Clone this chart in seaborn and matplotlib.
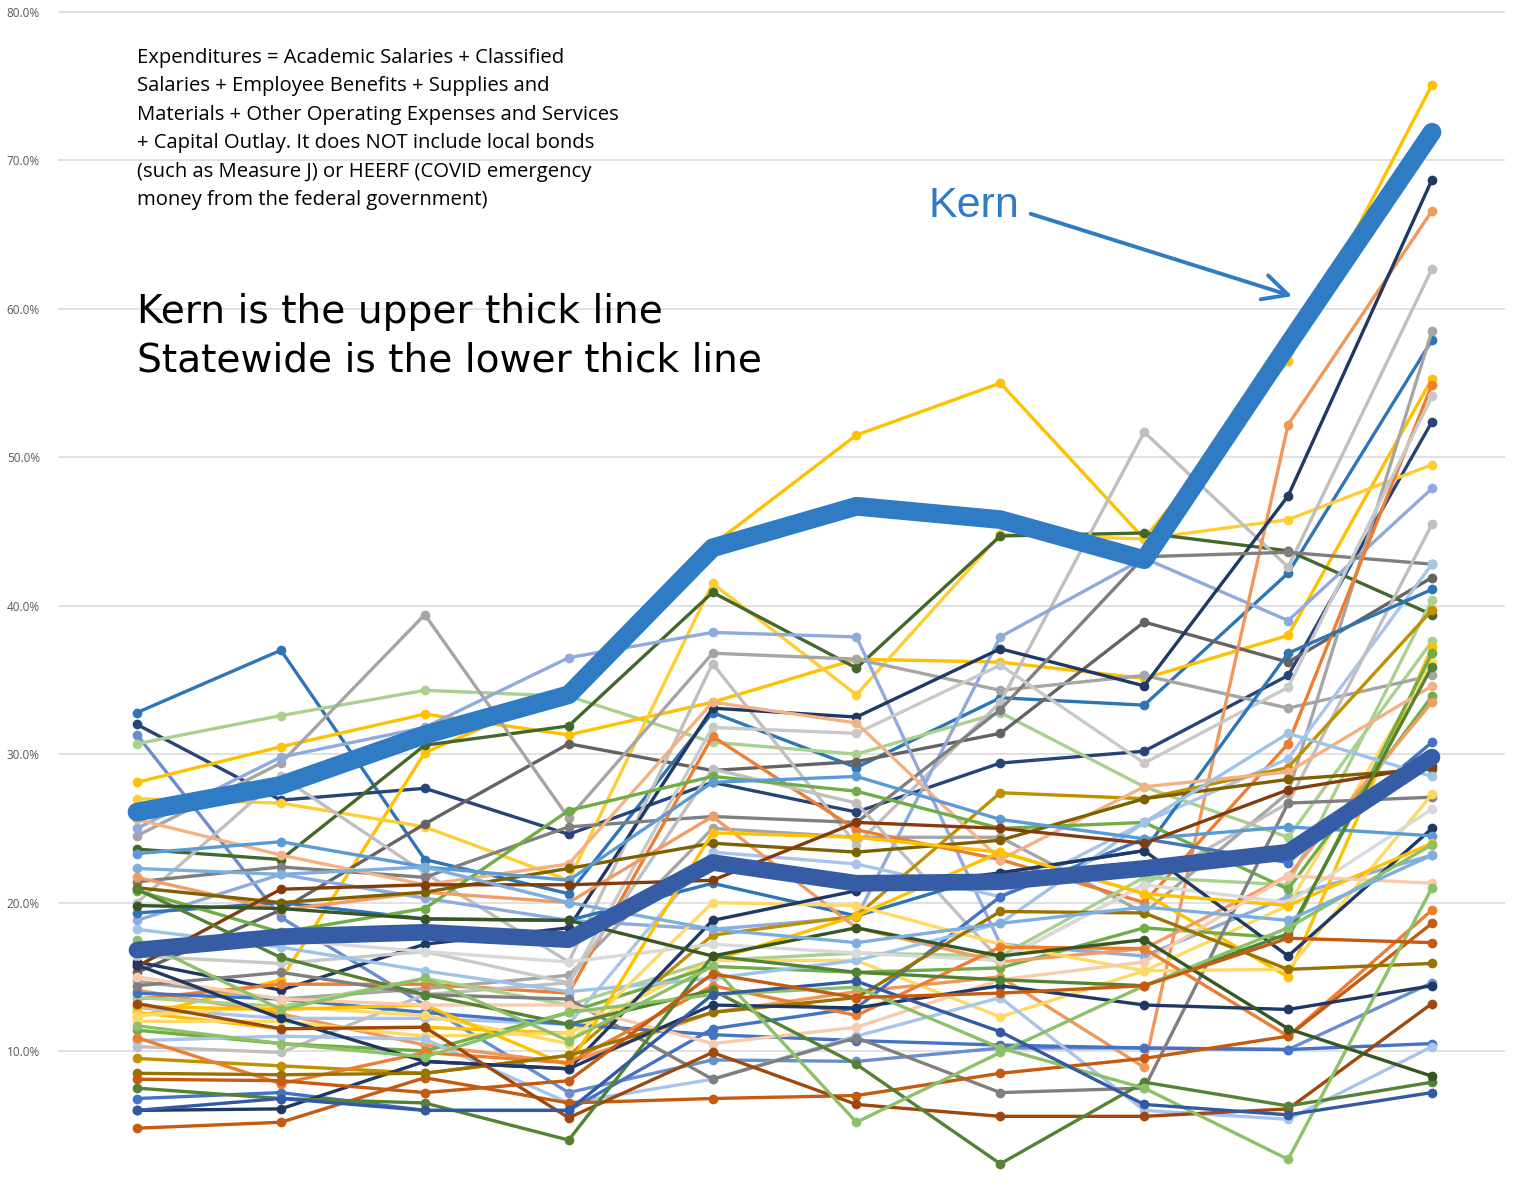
import matplotlib
matplotlib.use('Agg')
import matplotlib.pyplot as plt
import pandas as pd
import seaborn as sns
from matplotlib.ticker import PercentFormatter

# Fiscal years on the x axis (not labelled in the original chart)
years = ['2012-13', '2013-14', '2014-15', '2015-16', '2016-17',
         '2017-18', '2018-19', '2019-20', '2020-21', '2021-22']

# Expenditure growth (%) - the two highlighted series
kern = [26.1, 27.9, 31.3, 34.0, 43.9, 46.7, 45.8, 43.1, 57.6, 71.9]
statewide = [16.8, 17.7, 18.0, 17.5, 22.7, 21.3, 21.4, 22.3, 23.4, 29.8]

# other districts
d01 = [32.8, 37.0, 22.9, 20.6, 32.8, 29.1, 33.8, 33.3, 42.2, 57.9]
d02 = [32.0, 26.9, 27.7, 24.6, 28.1, 26.1, 29.4, 30.2, 35.3, 52.4]
d03 = [31.3, 19.0, 13.1, 7.2, 9.4, 9.3, 10.2, 10.2, 10.1, 14.6]
d04 = [30.7, 32.6, 34.3, 33.9, 30.8, 30.0, 32.8, 27.8, 24.4, 37.6]
d05 = [12.3, 14.8, 30.1, 34.3, 44.1, 51.5, 55.0, 44.5, 56.5, 75.1]
d06 = [28.1, 30.5, 32.7, 31.3, 33.5, 36.4, 36.2, 35.1, 38.0, 55.3]
d07 = [27.0, 26.7, 25.1, 21.5, 41.5, 34.0, 44.8, 44.5, 45.8, 49.5]
d08 = [23.6, 22.9, 30.6, 31.9, 40.9, 35.8, 44.7, 44.9, 43.7, 39.4]
d09 = [15.3, 19.5, 25.3, 30.7, 28.9, 29.5, 31.4, 38.9, 36.2, 41.9]
d10 = [24.5, 29.4, 39.4, 25.7, 36.8, 36.4, 34.3, 35.3, 33.1, 35.3]
d11 = [20.0, 28.5, 22.0, 16.0, 36.1, 23.9, 33.5, 51.7, 42.6, 62.7]
d12 = [25.0, 29.8, 31.8, 36.5, 38.2, 37.9, 17.2, 16.4, 20.4, 23.2]
d13 = [18.8, 21.9, 20.3, 18.8, 18.2, 19.0, 37.9, 43.2, 39.0, 47.9]
d14 = [14.1, 12.5, 10.4, 9.2, 12.6, 14.0, 15.0, 8.9, 52.2, 66.6]
d15 = [16.0, 14.1, 17.2, 18.3, 33.1, 32.5, 37.1, 34.6, 47.4, 68.7]
d16 = [21.4, 22.4, 21.7, 25.1, 25.8, 25.4, 33.0, 43.3, 43.6, 42.8]
d17 = [14.7, 13.5, 14.2, 15.1, 25.0, 24.4, 24.4, 19.3, 27.4, 58.5]
d18 = [13.5, 14.5, 14.5, 13.9, 31.2, 24.9, 22.9, 20.0, 30.7, 54.9]
d19 = [16.4, 15.9, 16.7, 14.6, 31.8, 31.4, 36.0, 29.4, 34.5, 54.1]
d20 = [12.9, 12.2, 12.2, 11.8, 23.4, 22.6, 20.4, 25.4, 29.7, 42.8]
d21 = [10.3, 9.9, 13.8, 14.6, 29.0, 26.7, 16.1, 21.2, 26.7, 45.5]
d22 = [19.3, 20.0, 18.9, 18.8, 21.3, 19.1, 22.0, 23.5, 36.8, 41.1]
d23 = [13.6, 13.0, 14.9, 13.1, 16.1, 16.6, 16.4, 21.7, 21.2, 40.4]
d24 = [9.5, 9.0, 8.5, 9.7, 17.8, 19.1, 27.4, 27.0, 29.1, 39.7]
d25 = [12.6, 11.5, 11.6, 11.2, 16.1, 19.1, 23.4, 20.6, 15.0, 37.2]
d26 = [12.0, 12.0, 11.0, 11.2, 16.1, 16.1, 12.3, 15.4, 19.8, 36.2]
d27 = [11.4, 10.5, 10.0, 12.6, 15.7, 15.3, 15.6, 18.3, 17.6, 36.8]
d28 = [25.6, 23.2, 21.2, 22.6, 33.5, 32.1, 22.9, 27.8, 28.8, 34.6]
d29 = [20.8, 18.0, 19.6, 26.2, 28.5, 27.5, 25.0, 25.4, 20.9, 33.9]
d30 = [21.7, 19.5, 20.7, 20.0, 25.8, 18.3, 16.0, 16.9, 21.8, 33.5]
d31 = [13.9, 13.5, 12.6, 11.8, 11.1, 10.7, 10.4, 10.2, 10.1, 10.5]
d32 = [10.7, 11.0, 10.8, 6.5, 8.1, 11.0, 13.6, 6.0, 5.4, 10.3]
d33 = [6.8, 7.2, 6.0, 6.0, 11.5, 12.9, 20.4, 24.3, 22.7, 30.8]
d34 = [21.0, 20.0, 20.7, 22.3, 24.0, 23.4, 24.2, 27.0, 28.3, 29.0]
d35 = [18.2, 17.0, 15.4, 14.0, 14.9, 16.1, 18.6, 25.4, 31.4, 28.5]
d36 = [14.4, 15.3, 13.8, 13.5, 8.1, 10.9, 7.2, 7.5, 26.7, 27.1]
d37 = [12.4, 13.0, 12.4, 10.5, 20.0, 19.8, 17.2, 15.4, 15.5, 27.3]
d38 = [16.8, 17.5, 16.7, 16.0, 17.2, 16.6, 16.1, 21.2, 20.0, 26.3]
d39 = [6.0, 6.1, 9.3, 8.8, 18.8, 20.8, 22.0, 23.5, 16.4, 25.0]
d40 = [23.3, 24.1, 22.4, 21.5, 28.1, 28.5, 25.6, 24.3, 25.1, 24.5]
d41 = [13.0, 12.8, 13.1, 9.0, 24.7, 24.4, 23.4, 20.6, 19.8, 24.0]
d42 = [15.0, 13.5, 13.1, 13.1, 10.5, 11.6, 14.8, 16.0, 21.8, 21.3]
d43 = [10.9, 7.8, 9.9, 9.2, 14.4, 12.4, 17.0, 16.9, 11.0, 19.5]
d44 = [4.8, 5.2, 8.2, 6.5, 6.8, 7.0, 8.5, 9.5, 11.0, 18.6]
d45 = [15.7, 20.9, 21.2, 21.2, 21.5, 25.4, 25.0, 24.0, 27.6, 29.2]
d46 = [8.5, 8.4, 8.5, 9.7, 12.6, 13.6, 19.4, 19.3, 15.5, 15.9]
d47 = [15.8, 12.2, 9.3, 8.8, 13.1, 12.9, 14.4, 13.1, 12.8, 14.4]
d48 = [13.2, 11.5, 11.6, 5.5, 9.9, 6.4, 5.6, 5.6, 6.1, 13.2]
d49 = [20.9, 16.3, 13.8, 11.8, 14.1, 9.1, 2.4, 7.9, 6.3, 7.9]
d50 = [7.5, 6.8, 6.5, 4.0, 16.4, 15.3, 14.8, 14.4, 17.9, 35.9]
d51 = [17.5, 12.8, 14.9, 10.7, 15.7, 5.2, 9.9, 14.4, 18.3, 23.9]
d52 = [11.7, 10.5, 9.6, 12.6, 13.8, 14.3, 10.2, 7.5, 2.7, 21.0]
d53 = [6.0, 6.8, 6.0, 6.0, 13.8, 14.7, 11.3, 6.4, 5.7, 7.2]
d54 = [19.8, 19.6, 18.9, 18.8, 16.4, 18.3, 16.4, 17.5, 11.5, 8.3]
d55 = [22.3, 21.9, 22.4, 20.0, 18.2, 17.3, 18.6, 19.7, 18.8, 23.2]
d56 = [8.1, 8.0, 7.2, 8.0, 15.2, 13.6, 13.9, 14.4, 17.6, 17.3]

districts = [d01, d02, d03, d04, d05, d06, d07, d08, d09, d10, d11, d12, d13, d14,
             d15, d16, d17, d18, d19, d20, d21, d22, d23, d24, d25, d26, d27, d28,
             d29, d30, d31, d32, d33, d34, d35, d36, d37, d38, d39, d40, d41, d42,
             d43, d44, d45, d46, d47, d48, d49, d50, d51, d52, d53, d54, d55, d56]

colors = ['#2E75B6', '#264478', '#698ED0', '#A9D18E', '#FFC000', '#FFC000', '#FFCD33',
          '#43682B', '#636363', '#A5A5A5', '#BFBFBF', '#8FAADC', '#8FAADC', '#F1975A',
          '#1F3864', '#7F7F7F', '#A5A5A5', '#ED7D31', '#C9C9C9', '#A9C4EB', '#BFBFBF',
          '#2E75B6', '#A9D18E', '#BF9000', '#FFC000', '#FFD966', '#70AD47', '#F4B183',
          '#70AD47', '#F19C65', '#4472C4', '#A9C4EB', '#4472C4', '#7F6000', '#9DC3E6',
          '#7F7F7F', '#FFD966', '#D9D9D9', '#203864', '#5B9BD5', '#FFC000', '#F8CBAD',
          '#ED7D31', '#C55A11', '#843C0C', '#997300', '#1F3864', '#9E480E', '#548235',
          '#548235', '#8CC168', '#8CC168', '#335AA1', '#375623', '#7CAFDD', '#C55A11']

rows = []
for i, vals in enumerate(districts):
    for yr, v in zip(years, vals):
        rows.append({'district': f'D{i + 1:02d}', 'year': yr, 'pct': v})
df = pd.DataFrame(rows)
palette = {f'D{i + 1:02d}': c for i, c in enumerate(colors)}

df_kern = pd.DataFrame({'year': years, 'pct': kern})
df_state = pd.DataFrame({'year': years, 'pct': statewide})

sns.set_style('white')
plt.rcParams['font.family'] = ['Open Sans', 'DejaVu Sans']

W, H = 1514, 1193
fig = plt.figure(figsize=(W / 100, H / 100), dpi=100)
ax = fig.add_axes([58 / W, 0, 1447 / W, 1])

sns.lineplot(data=df, x='year', y='pct', hue='district', palette=palette,
             sort=False, marker='o', markersize=7, markeredgewidth=0,
             linewidth=2.4, legend=False, ax=ax)
sns.lineplot(data=df_kern, x='year', y='pct', color='#2F7BC4', sort=False,
             linewidth=13.5, solid_capstyle='round', ax=ax)
sns.lineplot(data=df_state, x='year', y='pct', color='#355CA5', sort=False,
             linewidth=12, solid_capstyle='round', ax=ax)

# axis scaling so the 10% steps match the original spacing
px_per_pct = 14.843
ax.set_ylim(80 - (H - 12) / px_per_pct, 80 + 12 / px_per_pct)
ax.set_xlim(-79 / 143.9, 9 + 73 / 143.9)
ax.set_yticks([10, 20, 30, 40, 50, 60, 70, 80])
ax.yaxis.set_major_formatter(PercentFormatter(xmax=100, decimals=1))
ax.tick_params(axis='y', length=0, pad=13, labelsize=8.5, labelcolor='#595959')
ax.set_xticks([])
ax.set_xlabel('')
ax.set_ylabel('')
ax.grid(axis='y', color='#D9D9D9', linewidth=1.1)
ax.set_axisbelow(True)
for s in ax.spines.values():
    s.set_visible(False)

note = ('Expenditures = Academic Salaries + Classified\n'
        'Salaries + Employee Benefits + Supplies and\n'
        'Materials + Other Operating Expenses and Services\n'
        '+ Capital Outlay. It does NOT include local bonds\n'
        '(such as Measure J) or HEERF (COVID emergency\n'
        'money from the federal government)')
fig.text(137 / W, 1 - 48 / H, note, fontsize=14.6, va='top', ha='left',
         linespacing=1.56, color='black')

fig.text(137 / W, 1 - 312 / H, 'Kern is the upper thick line', fontsize=28.2,
         family='DejaVu Sans', va='center', ha='left', color='black')
fig.text(137 / W, 1 - 360 / H, 'Statewide is the lower thick line', fontsize=28.2,
         family='DejaVu Sans', va='center', ha='left', color='black')

fig.text(928 / W, 1 - 206 / H, 'Kern', fontsize=31, family='Liberation Sans',
         color='#2F7BC4', va='center', ha='left')
ax.annotate('', xy=(1295, H - 297), xycoords='figure pixels',
            xytext=(1028, H - 213), textcoords='figure pixels',
            arrowprops=dict(arrowstyle='->', color='#2F7BC4', lw=2.8,
                            mutation_scale=45))

fig.savefig('out.png', dpi=100)
